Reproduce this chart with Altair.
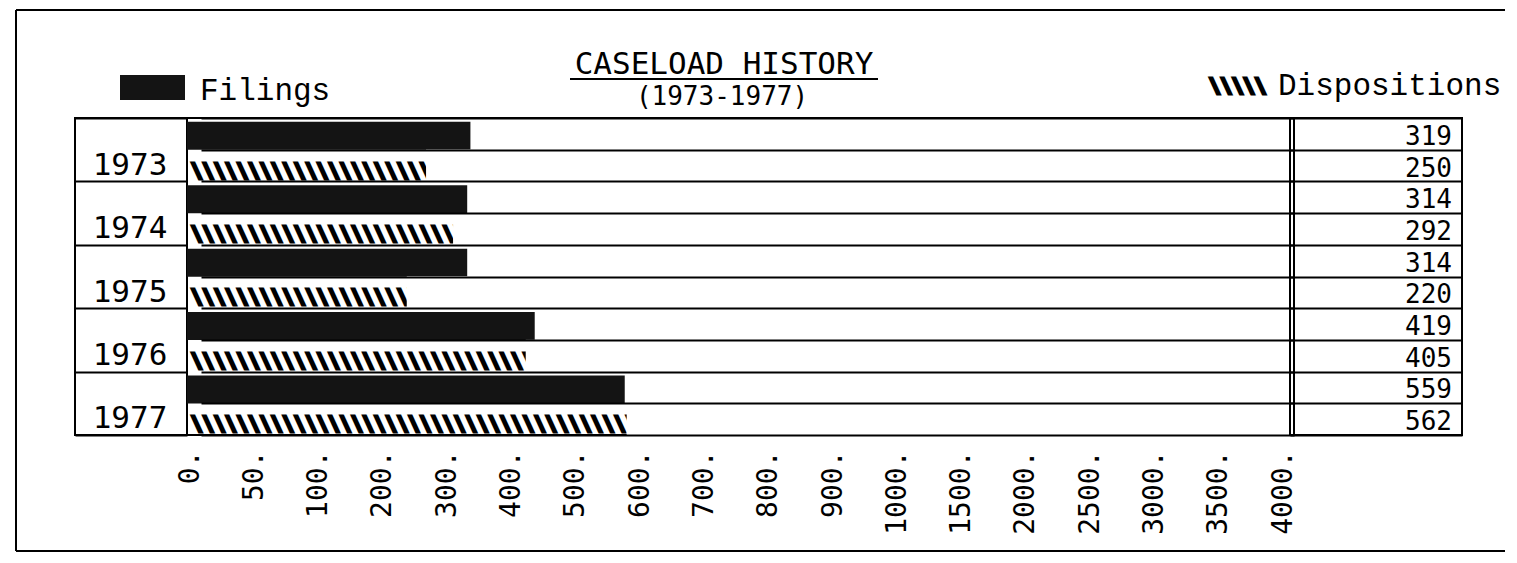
import altair as alt
import pandas as pd

# ---- data ----
years = [1973, 1974, 1975, 1976, 1977]
filings = [319, 314, 314, 419, 559]
dispositions = [250, 292, 220, 405, 562]
tick_values = [0, 50, 100, 200, 300, 400, 500, 600, 700, 800, 900, 1000,
               1500, 2000, 2500, 3000, 3500, 4000]
series = ["Filings", "Dispositions"]
title_text = "CASELOAD HISTORY"
subtitle_text = "(1973-1977)"

records = []
for y, f, d in zip(years, filings, dispositions):
    records.append({"row": f"{y} {series[0]}", "year": str(y), "type": series[0], "value": f})
    records.append({"row": f"{y} {series[1]}", "year": str(y), "type": series[1], "value": d})
df = pd.DataFrame(records)
row_order = list(df["row"])
years_df = pd.DataFrame({"year": [str(y) for y in years]})
one = pd.DataFrame({"k": [0]})

# ---- layout / style ----
PANEL_H = 317
BAR_W = 1103
YEAR_W = 112
NUM_W = 172
SANS_MONO = "DejaVu Sans Mono"
COURIER = "Liberation Mono"
TICK_START = 14
TICK_STEP = 64.3
LABEL_SHIFT = -11
HATCH = "\\" * 64

x_range = [TICK_START + TICK_STEP * i for i in range(len(tick_values))]
x_scale = alt.Scale(domain=tick_values, range=x_range)
row_scale = alt.Scale(domain=row_order, paddingInner=0, paddingOuter=0)

grid_axis = alt.Axis(title=None, labels=False, ticks=False, domain=False, grid=True,
                     tickBand="extent", gridColor="black", gridWidth=2, gridOpacity=1, zindex=1)
x_axis = alt.Axis(title=None, values=tick_values, labelExpr="datum.value + '.'",
                  labelAngle=270, labelFont=SANS_MONO, labelFontSize=28, labelColor="black",
                  labelOffset=LABEL_SHIFT, labelPadding=15, ticks=False, domain=False,
                  grid=False, labelOverlap=False, labelFlush=False, labelBound=False)

base = alt.Chart(df)
is_f = f"datum.type == '{series[0]}'"
is_d = f"datum.type == '{series[1]}'"

filings_bars = base.transform_filter(is_f).mark_bar(color="#141414", size=28, yOffset=2).encode(
    x=alt.X("value:Q", scale=x_scale, axis=x_axis, stack=None),
    x2=alt.value(0),
    y=alt.Y("row:N", scale=row_scale, axis=grid_axis),
)

hatch = base.transform_filter(is_d).mark_text(
    align="left", baseline="middle", font=SANS_MONO, fontWeight="bold", fontSize=19,
    color="black", stroke="black", strokeWidth=3, yOffset=5
).encode(
    x=alt.value(4),
    y=alt.Y("row:N", scale=row_scale),
    text=alt.value(HATCH),
)

mask = base.transform_filter(is_d).mark_bar(color="white", size=32, yOffset=0).encode(
    x=alt.X("value:Q", scale=x_scale, stack=None),
    x2=alt.datum(4000),
    y=alt.Y("row:N", scale=row_scale),
)

# decorations: title, legend, frame
title = alt.Chart(one).mark_text(font=SANS_MONO, fontSize=31, align="center",
                                 baseline="alphabetic", color="black").encode(
    x=alt.value(537), y=alt.value(-44), text=alt.value(title_text))
underline = alt.Chart(one).mark_rule(color="black", strokeWidth=2).encode(
    x=alt.value(383), x2=alt.value(691), y=alt.value(-39))
subtitle = alt.Chart(one).mark_text(font=SANS_MONO, fontSize=26, align="center",
                                    baseline="alphabetic", color="black").encode(
    x=alt.value(535), y=alt.value(-13), text=alt.value(subtitle_text))

f_swatch = alt.Chart(one).mark_rect(color="#141414").encode(
    x=alt.value(-67), x2=alt.value(-2), y=alt.value(-43), y2=alt.value(-18))
f_label = alt.Chart(one).mark_text(font=COURIER, fontSize=31, align="left",
                                   baseline="alphabetic", color="black").encode(
    x=alt.value(13), y=alt.value(-18), text=alt.value(series[0]))
d_swatch = alt.Chart(one).mark_text(font=SANS_MONO, fontWeight="bold", fontSize=19, align="left",
                                    baseline="middle", color="black", stroke="black",
                                    strokeWidth=3).encode(
    x=alt.value(1022), y=alt.value(-32), text=alt.value("\\" * 5))
d_label = alt.Chart(one).mark_text(font=COURIER, fontSize=31, align="left",
                                   baseline="alphabetic", color="black").encode(
    x=alt.value(1091), y=alt.value(-23), text=alt.value(series[1]))

frame_left = alt.Chart(one).mark_rule(color="black", strokeWidth=2).encode(
    x=alt.value(-171), y=alt.value(-108), y2=alt.value(433))
frame_top = alt.Chart(one).mark_rule(color="black", strokeWidth=2).encode(
    x=alt.value(-171), x2=alt.value(1318), y=alt.value(-108))
frame_bottom = alt.Chart(one).mark_rule(color="black", strokeWidth=2).encode(
    x=alt.value(-171), x2=alt.value(1318), y=alt.value(433))

bars_panel = alt.layer(
    filings_bars, hatch, mask, title, underline, subtitle,
    f_swatch, f_label, d_swatch, d_label, frame_left, frame_top, frame_bottom
).properties(width=BAR_W, height=PANEL_H)

years_panel = alt.Chart(years_df).mark_text(
    font=SANS_MONO, fontSize=31, align="center", baseline="alphabetic", dy=25, color="black"
).encode(
    x=alt.value(55),
    y=alt.Y("year:O", scale=alt.Scale(paddingInner=0, paddingOuter=0), axis=grid_axis),
    text="year:N",
).properties(width=YEAR_W, height=PANEL_H)

nums_text = base.mark_text(
    font=SANS_MONO, fontSize=26, align="right", baseline="alphabetic", dy=11, color="black"
).encode(
    x=alt.value(162),
    y=alt.Y("row:N", scale=row_scale, axis=grid_axis),
    text="value:Q",
)
double_line = alt.Chart(one).mark_rule(color="black", strokeWidth=2).encode(x=alt.value(4))
nums_panel = alt.layer(nums_text, double_line).properties(width=NUM_W, height=PANEL_H)

chart = alt.hconcat(years_panel, bars_panel, nums_panel, spacing=0, bounds="flush").configure_view(
    stroke="black", strokeWidth=2
).properties(
    padding={"left": 6, "top": 0, "right": 0, "bottom": 0},
    background="white",
)

chart.save("out.html", embed_options={"renderer": "svg", "actions": False})
